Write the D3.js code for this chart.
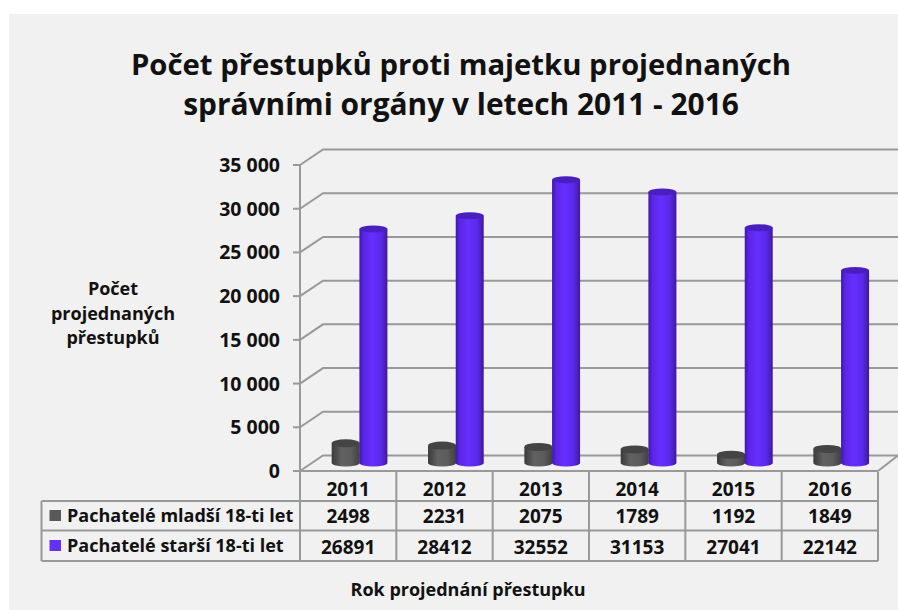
<!DOCTYPE html>
<html><head><meta charset="utf-8">
<script src="https://cdnjs.cloudflare.com/ajax/libs/d3/7.8.5/d3.min.js"></script>
<style>html,body{margin:0;padding:0;background:#fff}svg{display:block}text{font-family:"Open Sans",sans-serif;font-weight:700;fill:#111}</style>
</head><body><div id="c"></div>
<script>
const years=["2011","2012","2013","2014","2015","2016"];
const youngerValues=[2498,2231,2075,1789,1192,1849];
const olderValues=[26891,28412,32552,31153,27041,22142];
const yTicks=[0,5000,10000,15000,20000,25000,30000,35000];
const seriesNames=["Pachatelé mladší 18-ti let","Pachatelé starší 18-ti let"];
const titleLines=["Počet přestupků proti majetku projednaných","správními orgány v letech 2011 - 2016"];
const yTitleLines=["Počet","projednaných","přestupků"];
const xTitle="Rok projednání přestupku";

const W=898,H=610;
const svg=d3.select("#c").append("svg").attr("width",W).attr("height",H);
svg.append("rect").attr("x",9).attr("y",14).attr("width",W-9).attr("height",H-14).attr("fill","#f1f1f1");
const defs=svg.append("defs");
function grad(id,stops){const g=defs.append("linearGradient").attr("id",id);stops.forEach(s=>g.append("stop").attr("offset",s[0]).attr("stop-color",s[1]));}
grad("gOld",[[0,"#3f18a8"],[.15,"#5a26e6"],[.45,"#6430ff"],[.78,"#5a28e8"],[1,"#3c1a9c"]]);
grad("gYoung",[[0,"#3a3a3a"],[.35,"#626262"],[.7,"#5c5c5c"],[1,"#404040"]]);

const x=d3.scaleBand().domain(years).range([300,878]);
const y=d3.scaleLinear().domain([0,35000]).range([471,165]);
const dx=23,dy=-15.5;
const axisColor="#999";
const grid=svg.append("g").attr("fill","none").attr("stroke",axisColor).attr("stroke-width",2);
yTicks.forEach(t=>{
  grid.append("path").attr("d",d3.line()([[x.range()[0],y(t)],[x.range()[0]+dx,y(t)+dy],[W,y(t)+dy]]));
  grid.append("line").attr("x1",293).attr("x2",300).attr("y1",y(t)).attr("y2",y(t));
});
grid.append("line").attr("x1",300).attr("x2",300).attr("y1",y(35000)).attr("y2",561);
grid.append("line").attr("x1",300).attr("x2",878).attr("y1",y(0)).attr("y2",y(0));
grid.append("line").attr("x1",878).attr("x2",W).attr("y1",y(0)).attr("y2",y(0)+dy);

const baseY=463,rx=14;
const h=v=>(y(0)-y(v))*0.995;
function cyl(v,cx,fill,top,ry,topBase){
  const t=topBase-h(v);
  svg.append("path").attr("fill",`url(#${fill})`)
    .attr("d",`M${cx-rx},${t}L${cx-rx},${baseY}A${rx},3.5 0 0 0 ${cx+rx},${baseY}L${cx+rx},${t}Z`);
  svg.append("ellipse").attr("cx",cx).attr("cy",t).attr("rx",rx).attr("ry",ry).attr("fill",top);
}
years.forEach((yr,i)=>{
  const x0=x(yr);
  cyl(youngerValues[i],x0+45.7,"gYoung","#444",4,465);
  cyl(olderValues[i],x0+73.4,"gOld","#4a1fc0",3.5,463);
});

// table
const rows=[472,501,530.5,561];
const tb=svg.append("g").attr("stroke",axisColor).attr("stroke-width",2).attr("fill","none");
rows.slice(1).forEach(r=>tb.append("line").attr("x1",41.5).attr("x2",878).attr("y1",r).attr("y2",r));
tb.append("line").attr("x1",41.5).attr("x2",41.5).attr("y1",rows[1]).attr("y2",rows[3]);
years.forEach(yr=>tb.append("line").attr("x1",x(yr)+x.bandwidth()).attr("x2",x(yr)+x.bandwidth()).attr("y1",rows[0]).attr("y2",rows[3]));
const cell=(s,cx,cy,size)=>svg.append("text").attr("x",cx).attr("y",cy).attr("text-anchor","middle").attr("font-size",size).text(s);
years.forEach((yr,i)=>{
  const cx=x(yr)+x.bandwidth()/2;
  cell(yr,cx,495.5,19);
  cell(youngerValues[i],cx,523,19);
  cell(olderValues[i],cx,553.5,19);
});
[["#595959",510],["#6430ff",540]].forEach((d,i)=>{
  svg.append("rect").attr("x",49.5).attr("y",d[1]).attr("width",11.5).attr("height",11).attr("fill",d[0]);
  svg.append("text").attr("x",67).attr("y",d[1]+11.5).attr("font-size",18).text(seriesNames[i]);
});

// y labels
const fmt=v=>d3.format(",")(v).replace(/,/g," ");
yTicks.forEach(t=>svg.append("text").attr("x",280).attr("y",y(t)+7).attr("text-anchor","end").attr("font-size",19.5).text(fmt(t)));

titleLines.forEach((l,i)=>svg.append("text").attr("x",461).attr("y",[75,115][i]).attr("text-anchor","middle").attr("font-size",[29.3,29.9][i]).text(l));
yTitleLines.forEach((l,i)=>svg.append("text").attr("x",113).attr("y",[295,320,344][i]).attr("text-anchor","middle").attr("font-size",18).text(l));
svg.append("text").attr("x",468).attr("y",596).attr("text-anchor","middle").attr("font-size",18).text(xTitle);
</script></body></html>
